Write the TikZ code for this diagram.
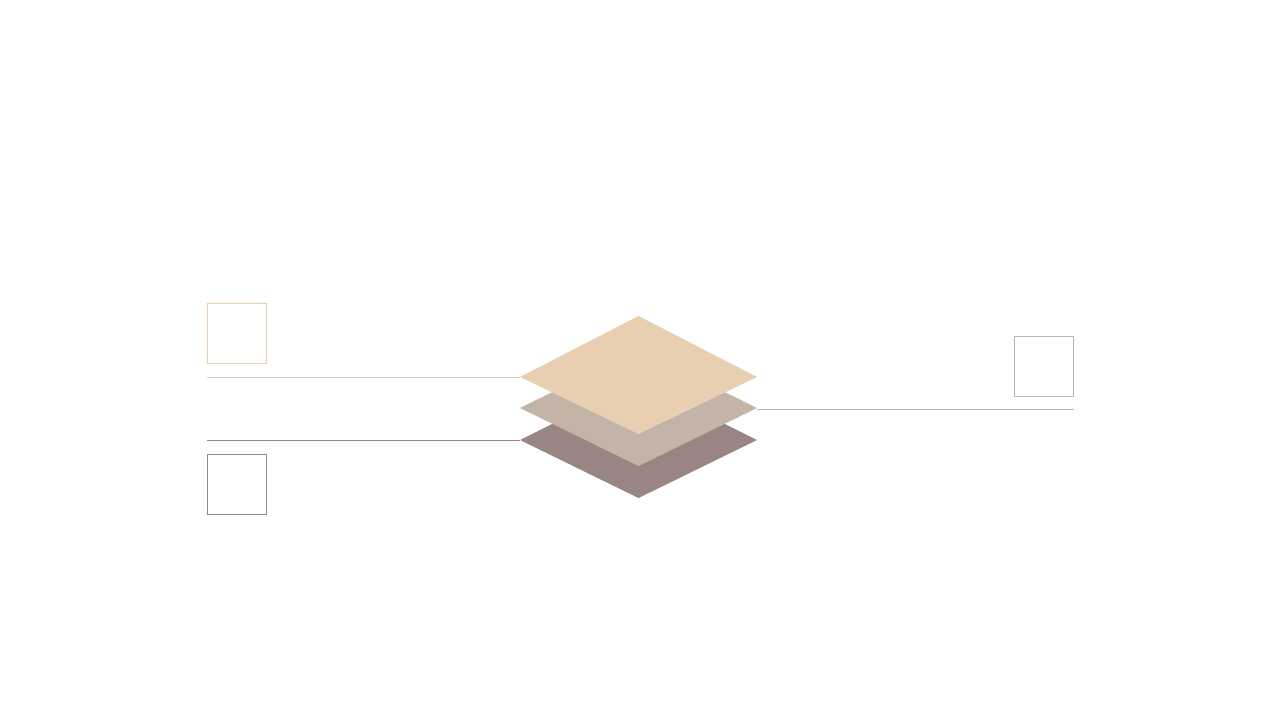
\documentclass[tikz,border=0pt]{standalone}
\begin{document}
\begin{tikzpicture}[x=1pt,y=-1pt,
  sq/.style={draw, line width=0.8pt, minimum width=59pt, minimum height=59.5pt, inner sep=0pt, anchor=north west},
  conn/.style={line width=0.8pt}]
\definecolor{cTop}{HTML}{E9CFB1}
\definecolor{cMid}{HTML}{C2B5A8}
\definecolor{cBot}{HTML}{988584}
\definecolor{cTopLine}{HTML}{E3CDB6}
\useasboundingbox[fill=white] (0,0) rectangle (1280,720);
% diamonds (bottom to top)
\coordinate (bL) at (520,440); \coordinate (bR) at (757,440);
\coordinate (mL) at (520,408); \coordinate (mR) at (757,408);
\coordinate (tL) at (520,377); \coordinate (tR) at (757,377);
\fill[cBot] (bL) -- (638.5,381) -- (bR) -- (638.5,498) -- cycle;
\fill[cMid] (mL) -- (638.5,349.5) -- (mR) -- (638.5,466) -- cycle;
\fill[cTop] (tL) -- (638.5,316) -- (tR) -- (638.5,434) -- cycle;
% boxes
\node[sq, draw=cTop] (boxA) at (207.3,303.3) {};
\node[sq, draw=cBot] (boxB) at (207.3,454.3) {};
\node[sq, draw=cMid] (boxC) at (1014.3,336) {};
% connectors
\coordinate (lA) at (207,377);
\coordinate (lB) at (207,440);
\coordinate (lC) at (1074,409);
\draw[conn, cTopLine] (lA) -- (tL);
\draw[conn, cBot] (lB) -- (bL);
\draw[conn, cMid] (mR |- lC) -- (lC);
\end{tikzpicture}
\end{document}
